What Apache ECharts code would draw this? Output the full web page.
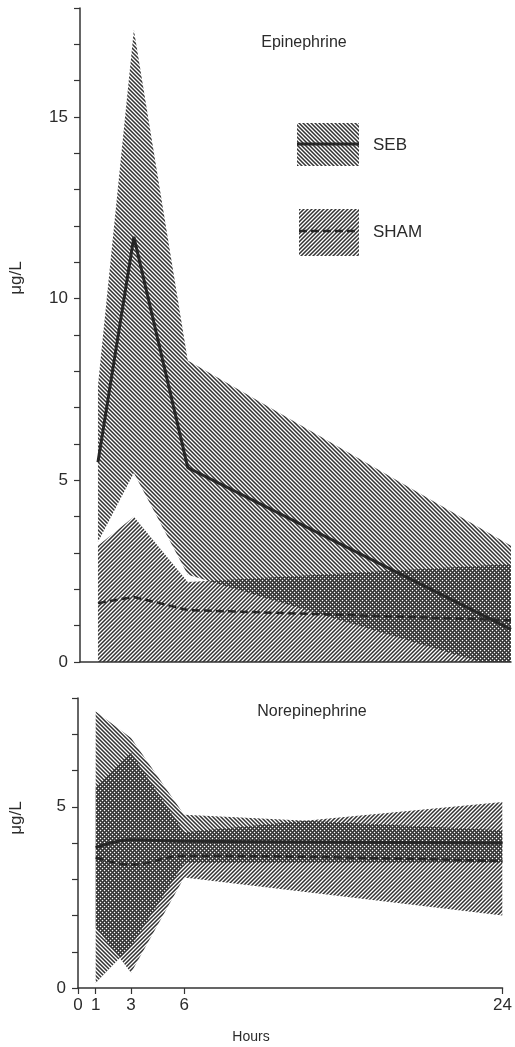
<!DOCTYPE html>
<html>
<head>
<meta charset="utf-8">
<title>Epinephrine / Norepinephrine</title>
<script src="https://cdn.jsdelivr.net/npm/echarts@6/dist/echarts.min.js"></script>
<style>
  html, body { margin: 0; padding: 0; background: #fff; }
  #chart { width: 515px; height: 1047px; }
</style>
</head>
<body>
<div id="chart"></div>
<script>
// hours after challenge
var hours = [1, 3, 6, 24];
var xTicks = [0, 1, 3, 6, 24];

// Epinephrine, ug/L (mean and band edges)
var epiSebMean = [5.5, 11.7, 5.35, 0.9];
var epiSebHigh = [7.6, 17.4, 8.3, 3.2];
var epiSebLow = [3.3, 5.2, 2.4, -0.25];
var epiShamMean = [1.62, 1.79, 1.43, 1.15];
var epiShamHigh = [3.2, 4.0, 2.2, 2.7];
var epiShamLow = [0, 0, 0, 0];

// Norepinephrine, ug/L
var norSebMean = [3.87, 4.09, 4.05, 4.0];
var norSebHigh = [7.63, 6.9, 4.78, 4.35];
var norSebLow = [0.14, 1.15, 3.45, 3.45];
var norShamMean = [3.6, 3.4, 3.65, 3.5];
var norShamHigh = [5.55, 6.49, 4.3, 5.13];
var norShamLow = [1.69, 0.42, 3.05, 2.0];

var ink = '#262626';
var font = '"Liberation Sans", Arial, sans-serif';

// 4px hatch tile, dir 1 = "\\" (SEB), dir -1 = "//" (SHAM)
// soft edges so that where both overlap it becomes a dark mesh with white dots
function hatch(dir) {
    var c = document.createElement('canvas');
    c.width = 4;
    c.height = 4;
    var ctx = c.getContext('2d');
    var img = ctx.createImageData(4, 4);
    var cover = [1, 0.55, 0, 0.55];
    for (var y = 0; y < 4; y++) {
        for (var x = 0; x < 4; x++) {
            var k = dir > 0 ? (x - y + 4) % 4 : (x + y) % 4;
            var p = (y * 4 + x) * 4;
            img.data[p] = 50;
            img.data[p + 1] = 50;
            img.data[p + 2] = 50;
            img.data[p + 3] = Math.round(255 * cover[k]);
        }
    }
    ctx.putImageData(img, 0, 0);
    return { image: c, repeat: 'repeat' };
}
var sebFill = hatch(1);
var shamFill = hatch(-1);

function band(name, gi, lo, hi, fill) {
    return {
        name: name,
        type: 'custom',
        xAxisIndex: gi,
        yAxisIndex: gi,
        silent: true,
        z: 1,
        data: [[hours[0], hi[0]]],
        renderItem: function (params, api) {
            var pts = [];
            for (var i = 0; i < hours.length; i++) pts.push(api.coord([hours[i], hi[i]]));
            for (var j = hours.length - 1; j >= 0; j--) pts.push(api.coord([hours[j], lo[j]]));
            var cs = params.coordSys;
            return {
                type: 'group',
                clipPath: { type: 'rect', shape: { x: cs.x, y: cs.y, width: cs.width, height: cs.height } },
                children: [{ type: 'polygon', shape: { points: pts }, style: { fill: fill, stroke: null } }]
            };
        }
    };
}

function meanLine(name, gi, vals, dashed, smooth) {
    return {
        name: name,
        type: 'line',
        xAxisIndex: gi,
        yAxisIndex: gi,
        data: hours.map(function (h, i) { return [h, vals[i]]; }),
        symbol: 'none',
        smooth: smooth,
        silent: true,
        z: 3,
        lineStyle: { color: ink, width: dashed ? 2.5 : 3, type: dashed ? [8, 4] : 'solid' }
    };
}

function yAxis(gi, max) {
    return {
        gridIndex: gi,
        type: 'value',
        min: 0,
        max: max,
        interval: 1,
        axisLine: { show: true, lineStyle: { color: '#333', width: 1.5 } },
        axisTick: { show: true, length: 6, lineStyle: { color: '#333', width: 1.2 } },
        axisLabel: {
            margin: 12,
            fontSize: 17,
            fontFamily: font,
            color: '#2b2b2b',
            formatter: function (v) { return v % 5 === 0 ? String(v) : ''; }
        },
        splitLine: { show: false }
    };
}

var chart = echarts.init(document.getElementById('chart'));
chart.setOption({
    animation: false,
    backgroundColor: '#ffffff',
    grid: [
        { left: 80, top: 8, width: 431, height: 654 },
        { left: 78, top: 698, width: 431, height: 290 }
    ],
    xAxis: [
        {
            gridIndex: 0, type: 'value', min: 0, max: 24,
            axisLine: { show: true, onZero: false, lineStyle: { color: '#333', width: 1.5 } },
            axisTick: { show: false },
            axisLabel: { show: false },
            splitLine: { show: false }
        },
        {
            gridIndex: 1, type: 'value', min: 0, max: 24,
            axisLine: { show: true, onZero: false, lineStyle: { color: '#333', width: 1.5 } },
            axisTick: { show: true, length: 6, customValues: xTicks, lineStyle: { color: '#333', width: 1.2 } },
            axisLabel: { customValues: xTicks, margin: 9, fontSize: 17, fontFamily: font, color: '#2b2b2b' },
            splitLine: { show: false }
        }
    ],
    yAxis: [yAxis(0, 18), yAxis(1, 8)],
    series: [
        band('SHAM', 0, epiShamLow, epiShamHigh, shamFill),
        band('SEB', 0, epiSebLow, epiSebHigh, sebFill),
        band('SHAM', 1, norShamLow, norShamHigh, shamFill),
        band('SEB', 1, norSebLow, norSebHigh, sebFill),
        meanLine('SHAM', 0, epiShamMean, true, false),
        meanLine('SEB', 0, epiSebMean, false, false),
        meanLine('SHAM', 1, norShamMean, true, 0.4),
        meanLine('SEB', 1, norSebMean, false, 0.4)
    ],
    graphic: [
        { type: 'text', x: 304, y: 43, style: { text: 'Epinephrine', fontSize: 16, fontFamily: font, fill: '#2b2b2b', align: 'center', verticalAlign: 'middle' } },
        { type: 'text', x: 312, y: 712, style: { text: 'Norepinephrine', fontSize: 16, fontFamily: font, fill: '#2b2b2b', align: 'center', verticalAlign: 'middle' } },
        { type: 'text', x: 16, y: 278, rotation: Math.PI / 2, style: { text: 'μg/L', fontSize: 17, fontFamily: font, fill: '#2b2b2b', align: 'center', verticalAlign: 'middle' } },
        { type: 'text', x: 16, y: 818, rotation: Math.PI / 2, style: { text: 'μg/L', fontSize: 17, fontFamily: font, fill: '#2b2b2b', align: 'center', verticalAlign: 'middle' } },
        { type: 'text', x: 251, y: 1037, style: { text: 'Hours', fontSize: 14, fontFamily: font, fill: '#2b2b2b', align: 'center', verticalAlign: 'middle' } },
        // legend
        { type: 'rect', shape: { x: 297, y: 123, width: 62, height: 43 }, style: { fill: sebFill } },
        { type: 'line', shape: { x1: 297, y1: 144, x2: 359, y2: 144 }, style: { stroke: ink, lineWidth: 3 } },
        { type: 'text', x: 373, y: 145, style: { text: 'SEB', fontSize: 17, fontFamily: font, fill: '#2b2b2b', verticalAlign: 'middle' } },
        { type: 'rect', shape: { x: 299, y: 209, width: 60, height: 47 }, style: { fill: shamFill } },
        { type: 'line', shape: { x1: 299, y1: 231, x2: 359, y2: 231 }, style: { stroke: ink, lineWidth: 2.5, lineDash: [8, 4] } },
        { type: 'text', x: 373, y: 232, style: { text: 'SHAM', fontSize: 17, fontFamily: font, fill: '#2b2b2b', verticalAlign: 'middle' } }
    ]
});
</script>
</body>
</html>
